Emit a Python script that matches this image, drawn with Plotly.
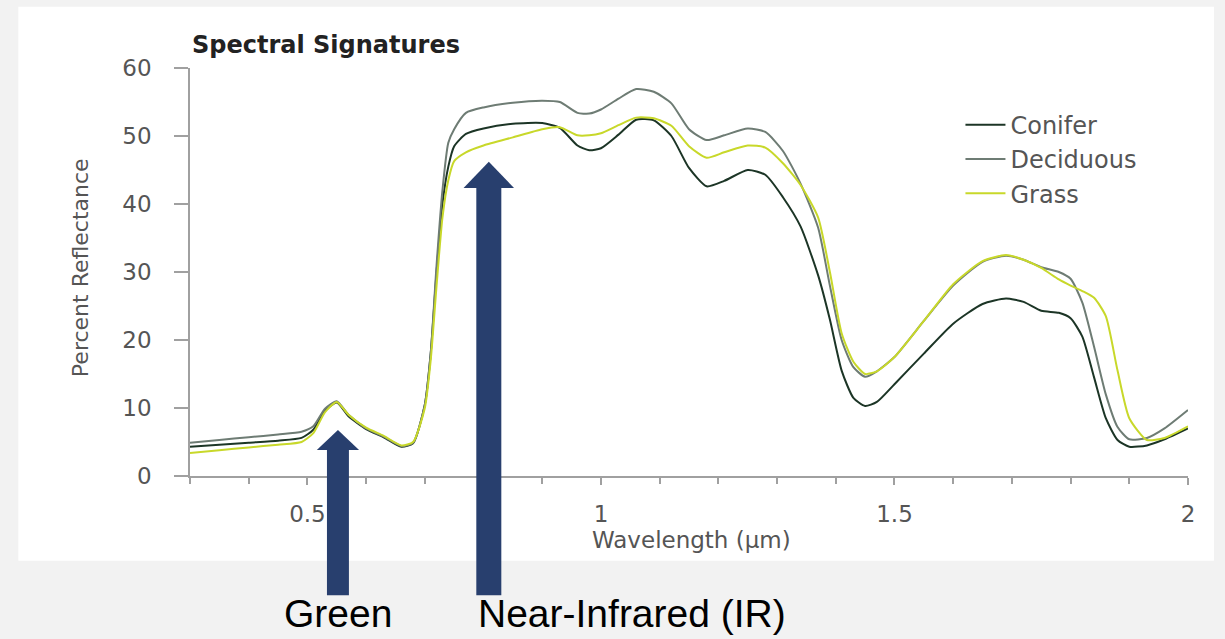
"""Spectral signatures of conifer, deciduous and grass vegetation."""

import plotly.graph_objects as go

# Wavelength (um) and percent reflectance
wavelength = [
    0.30, 0.35, 0.40, 0.45, 0.49, 0.51, 0.53, 0.55, 0.57, 0.60,
    0.63, 0.66, 0.68, 0.70, 0.71, 0.72, 0.73, 0.74, 0.75, 0.77,
    0.80, 0.85, 0.90, 0.93, 0.96, 0.98, 1.00, 1.03, 1.06, 1.09,
    1.12, 1.15, 1.18, 1.21, 1.25, 1.28, 1.31, 1.34, 1.37, 1.39,
    1.41, 1.43, 1.45, 1.47, 1.50, 1.55, 1.60, 1.65, 1.69, 1.72,
    1.75, 1.78, 1.80, 1.82, 1.84, 1.86, 1.88, 1.90, 1.93, 1.96, 2.00,
]
conifer = [
    4.3, 4.6, 4.9, 5.2, 5.6, 6.8, 9.6, 10.8, 8.8, 6.9,
    5.7, 4.3, 4.8, 10.5, 18.0, 30.0, 40.0, 45.5, 48.5, 50.3,
    51.1, 51.8, 51.9, 51.2, 48.6, 47.9, 48.2, 50.2, 52.4, 52.3,
    50.0, 45.3, 42.6, 43.4, 45.0, 44.3, 41.0, 36.7, 29.5, 23.0,
    15.5, 11.5, 10.3, 10.9, 13.5, 18.0, 22.4, 25.3, 26.1, 25.6,
    24.3, 24.0, 23.2, 20.5, 14.5, 8.5, 5.3, 4.3, 4.5, 5.4, 7.0,
]
deciduous = [
    4.9, 5.3, 5.7, 6.1, 6.5, 7.3, 9.9, 11.0, 9.0, 7.0,
    5.8, 4.4, 4.9, 10.5, 18.0, 31.0, 42.0, 49.0, 51.0, 53.4,
    54.2, 54.9, 55.2, 55.0, 53.4, 53.3, 53.9, 55.5, 56.9, 56.5,
    54.8, 51.0, 49.4, 50.1, 51.1, 50.6, 47.8, 43.0, 36.5, 28.0,
    20.0, 16.0, 14.6, 15.4, 17.5, 22.8, 28.0, 31.5, 32.4, 31.8,
    30.7, 30.0, 29.0, 25.5, 19.0, 12.0, 7.2, 5.4, 5.6, 7.0, 9.7,
]
grass = [
    3.4, 3.8, 4.2, 4.6, 5.0, 6.3, 9.4, 10.9, 9.0, 7.1,
    5.9, 4.5, 5.0, 10.0, 17.0, 28.0, 38.0, 43.5, 46.3, 47.6,
    48.6, 49.8, 51.0, 51.3, 50.1, 50.1, 50.4, 51.6, 52.7, 52.6,
    51.5, 48.5, 46.8, 47.6, 48.6, 48.3, 46.0, 42.8, 38.0, 30.0,
    21.0, 16.8, 15.0, 15.4, 17.5, 22.8, 28.2, 31.6, 32.5, 31.8,
    30.6, 28.9, 28.0, 27.2, 26.2, 23.5, 15.5, 8.5, 5.3, 5.6, 7.3,
]

series = [
    ("Conifer", conifer, "#1c3526"),
    ("Deciduous", deciduous, "#6e7c74"),
    ("Grass", grass, "#c8d82a"),
]

# Band markers under the chart: (label, wavelength the arrow points at)
band_labels = ["Green", "Near-Infrared (IR)"]
band_wavelengths = [0.552, 0.809]

ARROW = "#283f6e"
TEXT = "#555555"
FONT = "DejaVu Sans"

fig = go.Figure()

for name, values, color in series:
    fig.add_trace(go.Scatter(
        x=wavelength,
        y=values,
        name=name,
        mode="lines",
        line=dict(color=color, width=2, shape="spline", smoothing=0.6),
    ))

# White card behind the original chart
fig.add_shape(
    type="rect", xref="paper", yref="paper",
    x0=-0.172, x1=1.026, y0=-0.208, y1=1.15,
    fillcolor="white", line=dict(width=0), layer="below",
)

# Thick arrows: (shaft half width, head half width, head base, tip) per band
arrow_geom = [
    (0.0187, 0.036, 0.064, 0.113),
    (0.0213, 0.043, 0.706, 0.770),
]
for wl, (sw, hw, base, tip) in zip(band_wavelengths, arrow_geom):
    fig.add_shape(
        type="rect", xref="x", yref="paper",
        x0=wl - sw, x1=wl + sw, y0=-0.292, y1=base + 0.002,
        fillcolor=ARROW, line=dict(width=0),
    )
    fig.add_shape(
        type="path", xref="x", yref="paper",
        path=f"M {wl - hw},{base} L {wl + hw},{base} L {wl},{tip} Z",
        fillcolor=ARROW, line=dict(width=0),
    )

label_font = dict(family="Liberation Sans", size=39, color="black")
fig.add_annotation(
    text=band_labels[0], xref="x", yref="paper",
    x=band_wavelengths[0], y=-0.338, xanchor="center", yanchor="middle",
    showarrow=False, font=label_font,
)
fig.add_annotation(
    text=band_labels[1], xref="x", yref="paper",
    x=band_wavelengths[1] - arrow_geom[1][0], y=-0.338,
    xanchor="left", yanchor="middle",
    showarrow=False, font=label_font,
)

# Chart title and axis titles
fig.add_annotation(
    text="<b>Spectral Signatures</b>", xref="paper", yref="paper",
    x=0, y=1.056, xanchor="left", yanchor="middle", showarrow=False,
    font=dict(family=FONT, size=24, color="#222222"),
)
fig.add_annotation(
    text="Wavelength (µm)", xref="paper", yref="paper",
    x=0.503, y=-0.157, xanchor="center", yanchor="middle", showarrow=False,
    font=dict(family=FONT, size=23, color=TEXT),
)
fig.add_annotation(
    text="Percent Reflectance", xref="paper", yref="paper",
    x=-0.109, y=0.51, xanchor="center", yanchor="middle", showarrow=False,
    textangle=-90, font=dict(family=FONT, size=22, color=TEXT),
)

fig.update_layout(
    width=1225,
    height=639,
    paper_bgcolor="#f2f2f2",
    plot_bgcolor="white",
    margin=dict(l=190, r=37, t=68, b=163),
    font=dict(family=FONT, color=TEXT),
    showlegend=True,
    legend=dict(
        x=0.772, y=0.915, xanchor="left", yanchor="top",
        bgcolor="rgba(0,0,0,0)",
        font=dict(family=FONT, size=24, color=TEXT),
        itemwidth=40,
    ),
    xaxis=dict(
        range=[0.3, 2.0],
        tickvals=[0.5, 1, 1.5, 2],
        ticktext=["0.5", "1", "1.5", "2"],
        ticks="outside", ticklen=7, tickcolor="#a0a0a0", tickwidth=1.5,
        minor=dict(dtick=0.1, tick0=0, ticks="outside", ticklen=6,
                   tickcolor="#a0a0a0", tickwidth=1.5),
        showline=True, linecolor="#a0a0a0", linewidth=1.5,
        showgrid=False, zeroline=False,
        tickfont=dict(family=FONT, size=23, color=TEXT),
        ticklabelstandoff=10,
    ),
    yaxis=dict(
        range=[0, 60],
        dtick=10,
        ticks="outside", ticklen=14, tickcolor="#a0a0a0", tickwidth=1.5,
        showline=True, linecolor="#a0a0a0", linewidth=1.5,
        showgrid=False, zeroline=False,
        tickfont=dict(family=FONT, size=23, color=TEXT),
        ticklabelstandoff=18,
    ),
)

# Drop the page's default body margin so the figure fills the window exactly
fig.write_html(
    "out.html",
    config={"displayModeBar": False},
    post_script="document.body.style.margin = '0';",
)
